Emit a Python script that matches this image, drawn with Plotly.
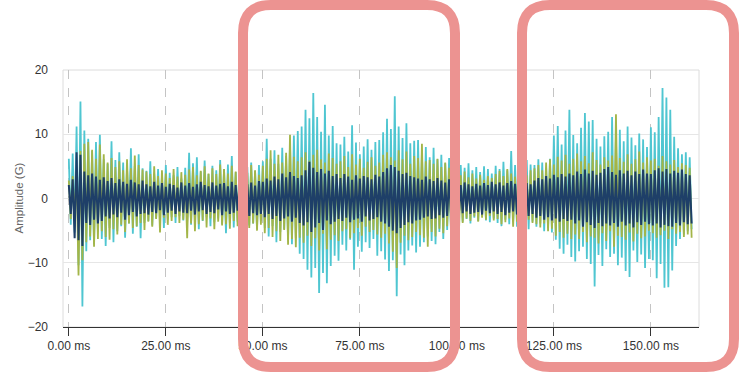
import plotly.graph_objects as go

SAMPLE_MS = 0.5

cyan_vals = [
    6.2,-4.1,7.0,-5.3,11.2,-10.4,15.1,-16.8,10.6,-8.2,9.3,-6.5,7.4,-7.1,8.8,-5.2,9.9,-6.3,6.1,-7.4,
    5.4,-4.6,8.9,-6.8,6.0,-5.1,7.2,-4.3,5.6,-6.1,4.8,-3.9,7.8,-5.5,5.1,-4.4,6.9,-6.2,4.7,-3.8,
    4.3,-3.5,5.8,-4.2,3.9,-3.1,4.6,-2.8,3.4,-4.6,5.2,-3.3,4.0,-2.9,3.6,-3.8,4.9,-2.7,3.1,-3.4,
    4.8,-3.6,7.1,-4.1,5.5,-3.2,6.4,-4.8,4.2,-3.5,5.9,-2.9,3.8,-4.3,5.1,-3.7,4.4,-3.1,6.0,-4.0,
    4.6,-5.4,5.3,-3.8,6.6,-4.5,4.1,-3.6,5.0,-5.9,3.7,-3.3,4.9,-4.2,5.6,-3.9,4.3,-4.7,5.2,-3.5,
    5.8,-4.6,9.3,-5.9,6.2,-4.3,7.5,-6.8,5.4,-5.2,7.9,-4.8,6.6,-6.4,8.6,-7.1,9.8,-6.2,10.5,-8.6,
    11.2,-9.4,13.8,-11.1,12.5,-12.3,16.4,-10.8,12.7,-14.7,10.4,-11.6,14.6,-13.2,9.8,-10.5,11.3,-8.9,8.6,-9.7,
    8.4,-7.2,9.6,-8.1,7.3,-6.4,11.4,-11.1,8.7,-7.5,6.9,-8.3,8.1,-6.8,9.2,-7.7,7.6,-6.3,8.8,-8.9,
    9.1,-8.2,10.3,-9.5,12.4,-11.3,10.8,-9.6,15.9,-15.2,11.2,-8.7,9.4,-10.4,11.7,-8.1,8.6,-7.3,9.0,-8.4,
    9.1,-7.5,7.2,-6.8,8.0,-5.9,6.4,-6.6,7.9,-7.1,6.1,-5.2,6.8,-6.3,5.5,-4.9,6.3,-5.8,5.7,-4.6,
    6.3,-4.1,5.2,-3.6,4.8,-3.2,5.5,-3.9,4.4,-3.0,4.9,-3.5,4.1,-2.8,5.0,-3.4,4.6,-3.7,3.9,-3.1,
    5.1,-3.8,4.6,-4.3,5.7,-3.3,4.4,-4.0,7.4,-3.6,5.2,-4.4,5.9,-3.2,4.6,-3.9,6.0,-4.8,5.3,-3.6,
    5.2,-4.4,6.1,-3.9,5.6,-5.1,4.8,-4.6,6.2,-5.3,9.8,-6.4,11.3,-7.8,8.4,-8.6,10.6,-7.2,13.8,-9.1,
    9.9,-9.8,8.6,-8.2,11.0,-7.5,13.3,-9.4,12.0,-10.2,12.2,-13.7,9.3,-8.8,8.1,-10.5,9.7,-7.9,10.4,-9.1,
    12.7,-8.6,9.8,-10.4,10.7,-9.2,8.9,-11.3,11.2,-12.2,9.5,-8.1,8.3,-9.9,10.1,-8.7,9.2,-10.8,8.0,-9.4,
    11.1,-9.6,10.3,-12.4,12.7,-10.2,17.2,-13.9,15.7,-13.8,13.8,-11.2,9.6,-7.4,7.8,-6.3,6.9,-5.6,7.2,-5.1,
    6.4,-4.8,
]

olive_vals = [
    2.8,-3.2,3.5,-2.9,4.1,-12.0,7.4,-9.6,8.5,-6.8,8.8,-5.9,7.6,-7.5,6.2,-6.3,8.4,-5.1,6.9,-6.0,
    5.6,-6.4,6.3,-4.8,4.9,-5.6,5.8,-4.1,4.4,-5.2,6.1,-3.9,4.7,-4.6,6.7,-4.3,5.2,-3.8,4.5,-4.9,
    4.2,-3.6,3.8,-4.4,5.0,-3.2,3.5,-5.3,4.4,-3.0,3.9,-4.1,3.2,-3.5,4.6,-2.9,3.4,-3.8,4.1,-3.3,
    3.7,-6.2,4.5,-3.9,4.9,-5.1,3.6,-4.0,4.3,-3.4,5.0,-4.5,3.9,-3.1,4.7,-4.8,3.8,-3.6,5.3,-4.2,
    4.6,-4.0,3.9,-4.7,5.1,-3.5,4.2,-4.3,3.6,-3.8,4.8,-3.2,4.0,-4.6,5.2,-3.9,4.4,-5.0,3.7,-4.1,
    5.1,-5.4,6.2,-4.6,7.5,-6.0,5.4,-5.1,6.8,-6.6,5.6,-4.9,7.1,-7.2,9.9,-6.3,6.5,-7.6,5.8,-6.1,
    6.4,-6.9,7.2,-5.8,5.9,-7.4,6.8,-6.2,7.6,-8.1,6.1,-5.5,5.6,-7.9,7.0,-6.4,6.3,-5.7,5.4,-6.6,
    5.8,-5.1,6.6,-4.8,4.9,-6.2,6.9,-5.4,5.3,-4.6,6.2,-5.8,4.8,-4.4,5.7,-5.2,6.4,-4.9,5.1,-5.6,
    5.6,-6.1,6.8,-5.5,7.2,-7.0,6.4,-8.3,5.9,-10.8,7.5,-6.9,6.1,-5.8,7.3,-6.5,5.4,-6.0,6.6,-5.2,
    6.3,-5.7,8.5,-6.1,5.8,-7.5,6.0,-5.2,5.4,-5.9,6.2,-4.7,4.9,-5.4,5.6,-4.3,4.8,-5.0,4.4,-4.6,
    4.0,-6.0,3.6,-3.8,4.2,-3.1,3.3,-3.5,3.9,-2.8,3.1,-3.6,3.7,-3.0,2.9,-3.3,3.5,-2.7,3.2,-3.4,
    3.8,-3.2,4.3,-4.0,3.5,-3.7,4.6,-3.1,3.9,-4.4,3.4,-3.6,4.8,-3.9,4.1,-4.6,3.6,-3.3,4.4,-3.8,
    4.7,-4.0,5.2,-4.5,4.4,-3.9,5.6,-5.1,6.1,-4.7,5.3,-5.8,6.5,-5.2,5.9,-6.1,6.8,-5.5,5.4,-6.3,
    6.2,-5.6,7.0,-6.3,5.8,-5.2,6.6,-6.8,5.5,-5.9,7.2,-6.1,6.0,-7.0,5.3,-5.4,6.4,-6.6,5.9,-5.1,
    6.7,-7.5,13.1,-5.8,6.3,-6.0,5.7,-6.4,6.9,-5.3,5.4,-6.7,6.1,-5.5,7.3,-6.2,5.6,-5.9,6.4,-5.0,
    5.9,-5.4,6.2,-6.1,5.1,-5.7,6.6,-5.0,5.8,-6.3,5.3,-4.8,6.0,-5.5,4.9,-5.2,5.5,-6.0,5.2,-5.6,
    4.8,-6.1,
]

navy_vals = [
    2.1,-2.4,3.0,-6.2,7.2,-6.5,6.8,-7.4,4.2,-3.8,3.6,-4.1,3.9,-3.3,3.4,-3.9,2.9,-3.5,3.3,-2.8,
    2.7,-3.1,3.2,-2.5,2.4,-2.9,3.0,-2.2,2.6,-3.3,2.3,-2.6,2.9,-2.1,2.5,-2.8,2.2,-2.4,2.8,-2.3,
    2.2,-2.5,1.9,-2.1,2.6,-2.3,2.0,-1.8,2.4,-2.6,1.8,-2.2,2.3,-1.9,2.1,-2.4,1.7,-2.0,2.5,-2.2,
    2.0,-2.3,2.4,-1.9,1.8,-2.5,2.2,-2.0,2.6,-1.8,2.1,-2.4,1.9,-2.1,2.5,-2.3,2.0,-1.7,2.3,-2.6,
    2.4,-2.0,1.9,-2.4,2.6,-2.2,2.1,-1.9,2.3,-2.5,2.8,-2.1,2.2,-2.7,2.5,-2.3,2.0,-2.6,2.7,-2.4,
    2.6,-2.9,3.1,-2.4,2.8,-3.2,3.4,-2.7,3.0,-3.5,3.9,-3.1,3.3,-2.8,4.1,-3.6,3.5,-3.0,3.2,-3.8,
    3.6,-4.2,4.4,-3.7,5.7,-5.2,4.8,-4.5,4.1,-3.8,4.6,-4.9,3.9,-3.4,4.3,-4.0,3.5,-3.6,3.8,-3.2,
    3.2,-3.5,3.8,-3.0,3.4,-3.7,2.9,-3.3,3.6,-3.1,3.1,-3.6,3.5,-2.8,3.3,-3.4,3.0,-3.2,3.7,-2.9,
    3.4,-3.6,4.1,-3.9,4.7,-4.4,5.2,-5.0,4.9,-5.4,4.3,-4.6,3.8,-4.1,4.0,-3.7,3.5,-3.9,3.3,-3.4,
    3.1,-3.3,2.9,-3.0,3.4,-2.8,3.0,-3.2,2.7,-3.1,3.2,-2.6,2.8,-3.0,2.5,-2.7,3.0,-2.5,2.6,-2.9,
    2.4,-2.6,2.1,-2.3,2.5,-2.0,2.2,-2.4,1.9,-2.2,2.3,-2.1,2.0,-2.5,2.4,-1.9,2.1,-2.3,2.6,-2.0,
    2.2,-2.4,2.5,-2.1,2.0,-2.6,2.4,-2.2,2.7,-2.0,2.3,-2.5,2.1,-2.3,2.6,-2.1,2.4,-2.7,2.2,-2.4,
    2.8,-3.0,3.2,-2.7,3.0,-3.3,3.5,-2.9,3.1,-3.4,3.7,-3.1,3.3,-3.6,3.8,-3.2,3.4,-3.5,3.9,-3.3,
    3.6,-3.9,4.2,-3.4,3.8,-4.4,4.5,-3.7,3.9,-4.1,4.3,-4.6,3.7,-3.8,4.0,-4.3,4.6,-3.9,4.9,-4.2,
    4.1,-3.8,3.7,-4.4,4.4,-3.6,3.9,-4.2,4.3,-3.9,3.6,-4.5,4.2,-3.7,3.8,-4.1,4.5,-3.6,3.9,-4.0,
    3.8,-4.2,4.4,-3.9,4.7,-4.5,4.2,-4.1,4.6,-4.3,3.9,-4.4,4.3,-3.8,4.0,-4.2,4.5,-3.7,3.8,-4.0,
    3.6,-3.9,
]

x_tick_vals = [0, 25, 50, 75, 100, 125, 150]
x_tick_text = ["0.00 ms", "25.00 ms", "50.00 ms", "75.00 ms", "100.00 ms", "125.00 ms", "150.00 ms"]
y_tick_vals = [-20, -10, 0, 10, 20]
y_title = "Amplitude (G)"

def times(vals):
    return [i * SAMPLE_MS for i in range(len(vals))]

fig = go.Figure()
series = [
    ("Z", cyan_vals, "#4FC6D1", 1.8),
    ("Y", olive_vals, "#A3B548", 1.8),
    ("X", navy_vals, "#1E3F68", 2.0),
]
for name, vals, col, lw in series:
    fig.add_trace(go.Scatter(x=times(vals), y=vals, mode="lines", name=name,
                             line=dict(color=col, width=lw), hoverinfo="skip"))

# layout geometry (pixels)
W, H = 739, 379
L, R, T, B = 63, 40, 70, 52
pw, ph = W - L - R, H - T - B

def px(x):
    return (x - L) / pw

def py(y):
    return (H - B - y) / ph

def rounded(x0, y0, x1, y1, r):
    def P(a, b):
        return f"{px(a):.5f},{py(b):.5f}"
    return (f"M {P(x0+r,y0)} L {P(x1-r,y0)} Q {P(x1,y0)} {P(x1,y0+r)} "
            f"L {P(x1,y1-r)} Q {P(x1,y1)} {P(x1-r,y1)} L {P(x0+r,y1)} "
            f"Q {P(x0,y1)} {P(x0,y1-r)} L {P(x0,y0+r)} Q {P(x0,y0)} {P(x0+r,y0)} Z")

shapes = [
    dict(type="rect", xref="paper", yref="paper", x0=0, x1=1, y0=0, y1=1,
         line=dict(color="#DCDCDC", width=1), layer="below"),
    dict(type="path", xref="paper", yref="paper", path=rounded(243, 5, 455, 367, 28),
         line=dict(color="#EC9391", width=10), layer="above"),
    dict(type="path", xref="paper", yref="paper", path=rounded(522, 5, 734, 367, 28),
         line=dict(color="#EC9391", width=10), layer="above"),
]

font_family = "Liberation Sans, Arial, sans-serif"
fig.update_layout(
    width=W, height=H,
    margin=dict(l=L, r=R, t=T, b=B, pad=0),
    paper_bgcolor="white", plot_bgcolor="white",
    showlegend=False,
    font=dict(family=font_family, size=12, color="#333333"),
    shapes=shapes,
    annotations=[dict(text=y_title, textangle=-90, xref="paper", yref="paper",
                      x=px(18), y=0.5, xanchor="center", yanchor="middle",
                      showarrow=False, font=dict(size=11.5, color="#666666", family=font_family))],
)
fig.update_xaxes(
    range=[-1.5, 162.4], tickvals=x_tick_vals, ticktext=x_tick_text,
    showgrid=True, gridcolor="#C4C4C4", griddash="dash", gridwidth=1,
    showline=True, linecolor="#333333", linewidth=1,
    ticks="outside", ticklen=8, tickcolor="#333333",
    zeroline=False, tickfont=dict(size=12, color="#333333"),
)
fig.update_yaxes(
    range=[-20, 20], tickvals=y_tick_vals,
    showgrid=True, gridcolor="#E6E6E6", gridwidth=1,
    zeroline=False, showline=False, ticks="", ticklabelstandoff=14,
    tickfont=dict(size=12, color="#333333"),
)

fig.write_html("out.html", config={"displayModeBar": False})

# remove the browser's default body margin so the figure sits at (0, 0)
with open("out.html", "r", encoding="utf-8") as f:
    html = f.read()
html = html.replace("<body>", '<body style="margin:0;padding:0;overflow:hidden">', 1)
with open("out.html", "w", encoding="utf-8") as f:
    f.write(html)
